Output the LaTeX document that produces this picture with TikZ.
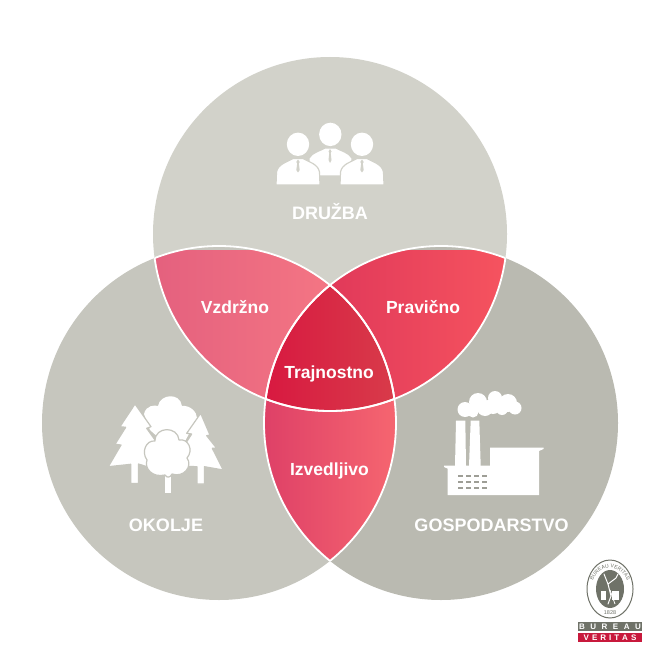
\documentclass[tikz,border=0pt]{standalone}
\usepackage{fontspec}
\setmainfont{Liberation Sans}
\usetikzlibrary{positioning,decorations.text}

\definecolor{krogD}{HTML}{D2D2CA}
\definecolor{krogO}{HTML}{C6C6BE}
\definecolor{krogG}{HTML}{BABAB1}
\definecolor{logoG}{HTML}{6F7268}
\definecolor{logoR}{HTML}{C8193C}
\definecolor{vzdA}{HTML}{E4607E}
\definecolor{vzdB}{HTML}{FA7E86}
\definecolor{praA}{HTML}{D92F58}
\definecolor{praB}{HTML}{F6545F}
\definecolor{izvA}{HTML}{DE4067}
\definecolor{izvB}{HTML}{F66670}
\definecolor{traA}{HTML}{D81840}
\definecolor{traB}{HTML}{D83C4A}

\newcommand{\potD}{(330,234) circle[radius=177]}
\newcommand{\potO}{(219,423) circle[radius=177]}
\newcommand{\potG}{(441,423) circle[radius=177]}

\tikzset{
	oznaka/.style={text=white, font=\bfseries\fontsize{18}{20}\selectfont, inner sep=0pt},
	ikona/.style={fill=white, draw=none},
	robD/.style={fill=white, draw=krogD, line width=1.2pt, line join=round},
	robO/.style={fill=white, draw=krogO, line width=1.2pt, line join=round},
	okno/.style={fill=krogG!85!black, draw=none},
	rob/.style={white, line width=1.8pt},
	trak/.style={text=white, font=\bfseries\fontsize{8}{8}\selectfont, minimum width=64pt, minimum height=9pt, inner sep=0pt},
}

\begin{document}
\begin{tikzpicture}[x=1pt, y=-1pt]
		\useasboundingbox (0,0) rectangle (660,660);
		
		\fill[krogD] \potD;
		\fill[krogO] \potO;
		\fill[krogG] \potG;
		
		\begin{scope}
			\clip \potD; \clip \potO;
			\fill[left color=vzdA, right color=vzdB] (150,250) rectangle (400,405);
		\end{scope}
		\begin{scope}
			\clip \potD; \clip \potG;
			\fill[left color=praA, right color=praB] (262,250) rectangle (510,405);
		\end{scope}
		\begin{scope}
			\clip \potO; \clip \potG;
			\fill[left color=izvA, right color=izvB] (262,280) rectangle (398,565);
		\end{scope}
		\begin{scope}
			\clip \potD; \clip \potO; \clip \potG;
			\fill[left color=traA, right color=traB] (262,280) rectangle (398,415);
		\end{scope}
		
		\begin{scope}
			\clip \potO;
			\draw[rob] \potD;
			\draw[rob] \potG;
		\end{scope}
		\begin{scope}
			\clip \potG;
			\draw[rob] \potD;
			\draw[rob] \potO;
		\end{scope}
		\begin{scope}
			\clip \potD;
			\draw[rob] \potO;
			\draw[rob] \potG;
		\end{scope}
		
		\node[oznaka] (druzba) at (330,212) {DRUŽBA};
		\node[oznaka] (okolje) at (166,525) {OKOLJE};
		\node[oznaka] (gosp) at (491.5,525) {GOSPODARSTVO};
		\node[oznaka, font=\bfseries\fontsize{17.5}{20}\selectfont] (vzdrzno) at (235,307) {Vzdržno};
		\node[oznaka, font=\bfseries\fontsize{17.5}{20}\selectfont] (pravicno) at (423,307) {Pravično};
		\node[oznaka, font=\bfseries\fontsize{17.5}{20}\selectfont] (trajno) at (329,374) {Trajnostno};
		\node[oznaka, font=\bfseries\fontsize{17.5}{20}\selectfont] (izved) at (329.5,470.5) {Izvedljivo};
		
		% ljudje
		\fill[ikona] (330.3,134.4) ellipse[x radius=11.2, y radius=11.7];
		\path[robD] (309,176) -- (309,158) .. controls (313,152) and (320,151) .. (325,148) -- (336,148) .. controls (341,151) and (348,152) .. (352,158) -- (352,176) -- cycle;
		\fill[krogD] (330,149) -- (328.5,151.5) -- (329.3,153) -- (328.5,160) -- (330,163) -- (331.5,160) -- (330.7,153) -- (331.5,151.5) -- cycle;
		\foreach \x in {298,362} {
			\path[robD] (\x-22,185) -- (\x-21.5,172) .. controls (\x-20,164) and (\x-11,162) .. (\x-5,158.5) -- (\x+5,158.5) .. controls (\x+11,162) and (\x+20,164) .. (\x+21.5,172) -- (\x+22,185) -- cycle;
			\fill[krogD] (\x,159.5) -- (\x-1.7,162) -- (\x-0.8,163.5) -- (\x-1.7,170) -- (\x,172.5) -- (\x+1.7,170) -- (\x+0.8,163.5) -- (\x+1.7,162) -- cycle;
			\fill[ikona] (\x,144.3) ellipse[x radius=11.2, y radius=11.7];
		}
		
		% drevesa
		\fill[ikona] (144,414) .. controls (146,405) and (155,405) .. (158,406) .. controls (160,394) and (180,392) .. (182,406) .. controls (190,405) and (197,412) .. (197,418) -- (178,455) -- (150,430) -- cycle;
		\path[robO] (135,404) -- (151,426.7) -- (146.7,428.3) -- (160,447) -- (155,449) -- (170,474) -- (138.5,464) -- (138.5,483.5) -- (130.7,483.5) -- (130.7,464.3) -- (108.3,466.7) -- (121,445) -- (115,444.3) -- (125.7,427.3) -- (120,426.7) -- cycle;
		\path[robO] (200.7,413.3) -- (210,435) -- (206.7,435.7) -- (216.7,448.3) -- (212.3,448.3) -- (223.3,470) -- (204.5,466.7) -- (204.5,484) -- (197,484) -- (197,466.7) -- (178,466) -- (186,452) -- (182,449) -- (191.7,434) -- (186.7,433.3) -- cycle;
		\fill[ikona] (164.5,465) rectangle (171,493);
		\path[robO] (165,475) .. controls (152,478) and (144,468) .. (147,460) .. controls (141,452) and (146,440) .. (155,441) .. controls (155,426) and (178,426) .. (179,440) .. controls (188,438) and (194,450) .. (187,458) .. controls (193,466) and (184,478) .. (172,474) .. controls (170,478) and (167,478) .. (165,475) -- cycle;
		
		% tovarna
		\fill[ikona] (455,466) -- (456,420.5) -- (465.3,420.5) -- (466,466) -- cycle;
		\fill[ikona] (469,466) -- (470.7,420.5) -- (479.3,420.5) -- (480.7,466) -- cycle;
		\fill[ikona] (444,465.5) -- (490,465.5) -- (490,447.5) -- (543.5,447.5) -- (543.5,449) -- (539,451) -- (539,495) -- (447.5,495) -- (447.5,468.5) -- (444,467) -- cycle;
		\foreach \y in {475.7,481.7,487.7} {
			\foreach \x in {457.5,465.5,473.5,481.5} {
				\fill[okno] (\x,\y-1.2) rectangle (\x+5.5,\y+1.2);
			}
		}
		\foreach \x/\y/\r in {465/409.5/7.5,478/402/9,495/398/7,508/403/9,515/408/6.5,473/412/5.5,485/408/8,493/406/8,502/409/6}
			\fill[ikona] (\x,\y) circle[radius=\r];
		
		% znak
		\filldraw[fill=white, draw=logoG, line width=1pt] (610,589) ellipse[x radius=23, y radius=29];
		\fill[logoG] (610,589) ellipse[x radius=14, y radius=19];
		\path[postaction={decorate}, decoration={text along path, text align=center, text={|\fontsize{5.2}{5.2}\selectfont\color{logoG}|BUREAU VERITAS}}] (591,600) .. controls (586,557) and (634,557) .. (629,600);
		\node[text=logoG, inner sep=0pt, font=\fontsize{5.5}{5.5}\selectfont] (leto) at (610,612.8) {1828};
		\draw[white, line width=1pt, line cap=round] (604,574) -- (608,584) -- (611,596) -- (608,604);
		\draw[white, line width=1pt, line cap=round] (608,584) -- (616,578) -- (618,574);
		\draw[white, line width=0.8pt] (610,590) -- (615,604);
		\fill[white] (612,591) rectangle (619,600);
		\fill[white] (601,591) rectangle (606,600);
		
		\node[trak, fill=logoG] (bureau) at (610,626.5) {B\hspace{5.5pt}U\hspace{5.5pt}R\hspace{5.5pt}E\hspace{5.5pt}A\hspace{5.5pt}U};
		\node[trak, fill=logoR, below=1.5pt of bureau] (veritas) {V\hspace{3pt}E\hspace{3pt}R\hspace{3pt}I\hspace{3pt}T\hspace{3pt}A\hspace{3pt}S};
		
	\end{tikzpicture}
\end{document}
